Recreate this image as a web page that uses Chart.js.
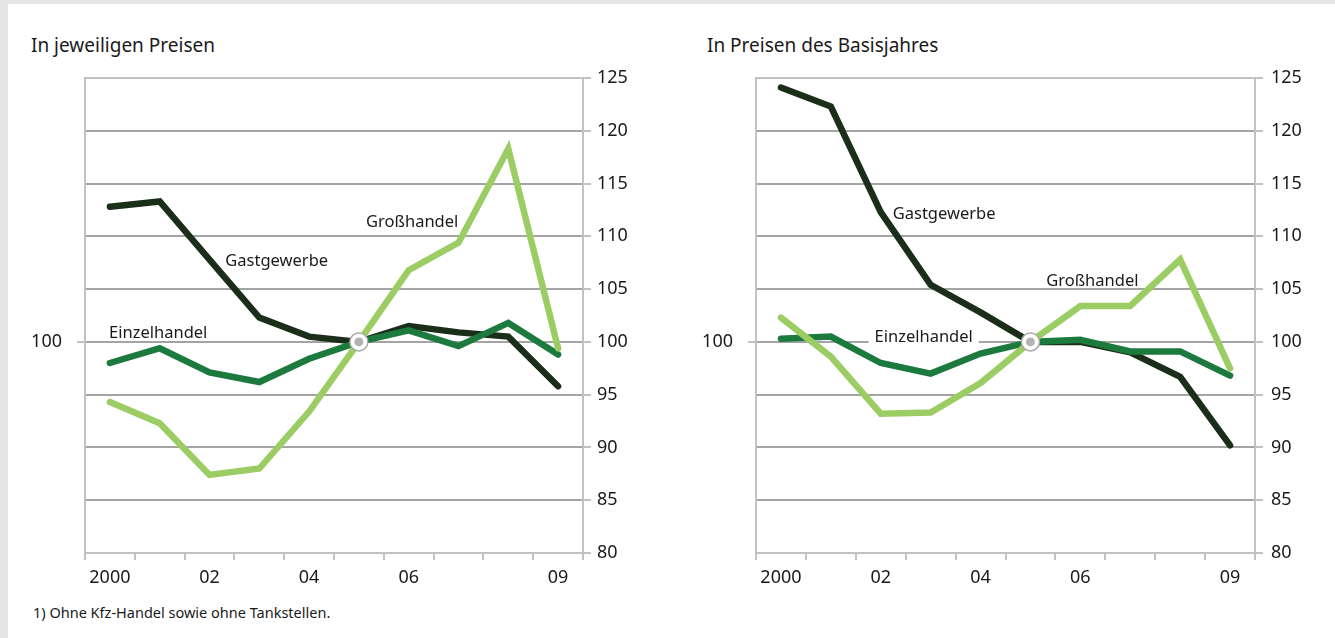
<!DOCTYPE html>
<html lang="de">
  <head>
    <meta charset="UTF-8" />
    <title>Umsatzentwicklung Handel und Gastgewerbe</title>
    <script src="https://cdn.jsdelivr.net/npm/chart.js"></script>
    <style>
      body {
        margin: 0;
        width: 1335px;
        height: 638px;
        background: #fff;
        position: relative;
        overflow: hidden;
        font-family: "Noto Sans", sans-serif;
        color: #1a1a1a;
      }
      .rand-links { position: absolute; left: 0; top: 0; width: 8px; height: 638px; background: #e5e5e5; }
      .rand-oben { position: absolute; left: 0; top: 0; width: 1335px; height: 4px; background: #e5e5e5; }
      .titel { position: absolute; top: 32px; font-size: 19px; white-space: nowrap; }
      .fussnote { position: absolute; left: 33px; top: 602px; font-size: 14.5px; }
      canvas { position: absolute; top: 0; }
    </style>
  </head>
  <body>
    <div class="rand-links"></div>
    <div class="rand-oben"></div>
    <div class="titel" style="left: 31px">In jeweiligen Preisen</div>
    <div class="titel" style="left: 707px">In Preisen des Basisjahres</div>
    <canvas id="chartLinks" width="665" height="600" style="left: 0"></canvas>
    <canvas id="chartRechts" width="665" height="600" style="left: 670px"></canvas>
    <div class="fussnote">1) Ohne Kfz-Handel sowie ohne Tankstellen.</div>

    <script>
      // Jahre und Achsenbeschriftung
      const jahre = ["2000", "2001", "2002", "2003", "2004", "2005", "2006", "2007", "2008", "2009"];
      const jahrLabels = ["2000", "", "02", "", "04", "", "06", "", "", "09"];
      const basisJahr = "2005";

      // In jeweiligen Preisen (2005 = 100)
      const gastLinks = [112.8, 113.3, 107.8, 102.3, 100.5, 100, 101.5, 100.9, 100.5, 95.8];
      const einzelLinks = [98.0, 99.4, 97.1, 96.2, 98.4, 100, 101.1, 99.6, 101.8, 98.8];
      const grossLinks = [94.3, 92.3, 87.4, 88.0, 93.4, 100, 106.8, 109.4, 118.3, 99.4];

      // In Preisen des Basisjahres (2005 = 100)
      const gastRechts = [124.1, 122.3, 112.3, 105.4, 102.8, 100, 100.0, 99.0, 96.7, 90.2];
      const einzelRechts = [100.3, 100.5, 98.0, 97.0, 98.9, 100, 100.2, 99.1, 99.1, 96.8];
      const grossRechts = [102.3, 98.6, 93.2, 93.3, 96.1, 100, 103.4, 103.4, 107.8, 97.5];

      const yMin = 80, yMax = 125, yStep = 5;

      const farbeGast = "#1a2e1a";
      const farbeEinzel = "#1c7a3e";
      const farbeGross = "#9ccd64";
      const gitter = "#a4a4a4";
      const rahmen = "#c2c2c2";
      const schrift = "#1a1a1a";

      const basisDaten = jahre.map((j) => (j === basisJahr ? 100 : null));

      // Beschriftungen direkt an den Linien
      const linienText = {
        id: "linienText",
        beforeDatasetsDraw(chart, args, opts) {
          const ctx = chart.ctx;
          const x = chart.scales.x, y = chart.scales.y;
          ctx.save();
          ctx.font = '16.5px "Noto Sans"';
          ctx.textAlign = "center";
          ctx.textBaseline = "middle";
          (opts.items || []).forEach((it) => {
            const px = x.getPixelForValue(it.i);
            const py = y.getPixelForValue(it.v);
            if (it.box) {
              const w = ctx.measureText(it.text).width + 12;
              ctx.fillStyle = "#fff";
              ctx.fillRect(px - w / 2, py - 8, w, 16);
            }
            ctx.fillStyle = schrift;
            ctx.fillText(it.text, px, py);
          });
          ctx.restore();
        },
      };

      function baueChart(id, gast, einzel, gross, breiteLinks, breiteRechts, pad, labels) {
        const linie = (label, data, farbe, order) => ({
          label, data, order,
          borderColor: farbe,
          borderWidth: 6.5,
          borderCapStyle: "round",
          borderJoinStyle: "miter",
          pointRadius: 0,
          tension: 0,
          yAxisID: "y",
        });
        const schriftArt = { family: "Noto Sans", size: 18 };
        return new Chart(document.getElementById(id), {
          type: "line",
          data: {
            labels: jahre,
            datasets: [
              {
                label: "Basis", data: basisDaten, order: 0, showLine: false, yAxisID: "y",
                pointRadius: 4.5, pointBackgroundColor: "#b3b3b3", pointBorderWidth: 0,
              },
              {
                label: "Basisring", data: basisDaten, order: 1, showLine: false, yAxisID: "y",
                pointRadius: 9, pointBackgroundColor: "#fff", pointBorderColor: "#a9a9a9", pointBorderWidth: 1.5,
              },
              linie("Großhandel", gross, farbeGross, 2),
              linie("Einzelhandel", einzel, farbeEinzel, 3),
              linie("Gastgewerbe", gast, farbeGast, 4),
            ],
          },
          options: {
            responsive: false,
            animation: false,
            layout: { padding: { top: 78, left: 0, right: 0, bottom: 0 } },
            plugins: {
              legend: { display: false },
              tooltip: { enabled: false },
              linienText: { items: labels },
            },
            scales: {
              x: {
                offset: true,
                afterFit: (s) => { s.height = 47; },
                grid: { drawOnChartArea: false, offset: true, tickLength: 7, color: rahmen, lineWidth: 2 },
                border: { display: true, color: rahmen, width: 2 },
                ticks: {
                  autoSkip: false, maxRotation: 0, padding: 7, color: schrift,
                  font: schriftArt,
                  callback: (v, i) => jahrLabels[i],
                },
              },
              yl: {
                position: "left", min: yMin, max: yMax,
                afterFit: (s) => { s.width = breiteLinks; },
                afterBuildTicks: (s) => { s.ticks = [{ value: 100 }]; },
                grid: { drawOnChartArea: false, tickLength: 8, color: rahmen, lineWidth: 2 },
                border: { display: true, color: rahmen, width: 2 },
                ticks: { padding: 15, color: schrift, font: schriftArt },
              },
              y: {
                position: "right", min: yMin, max: yMax,
                afterFit: (s) => { s.width = breiteRechts; },
                grid: {
                  tickLength: 8, lineWidth: 2,
                  color: (c) => (c.tick && (c.tick.value === yMin || c.tick.value === yMax) ? rahmen : gitter),
                  tickColor: rahmen,
                },
                border: { display: true, color: rahmen, width: 2 },
                ticks: { stepSize: yStep, padding: pad, color: schrift, font: schriftArt },
              },
            },
          },
          plugins: [linienText],
        });
      }

      baueChart("chartLinks", gastLinks, einzelLinks, grossLinks, 85, 82, 6, [
        { text: "Gastgewerbe", i: 3.35, v: 107.6 },
        { text: "Großhandel", i: 6.07, v: 111.3 },
        { text: "Einzelhandel", i: 0.97, v: 100.8 },
      ]);
      baueChart("chartRechts", gastRechts, einzelRechts, grossRechts, 86, 80, 8, [
        { text: "Gastgewerbe", i: 3.27, v: 112.1 },
        { text: "Großhandel", i: 6.24, v: 105.7 },
        { text: "Einzelhandel", i: 2.86, v: 100.4, box: true },
      ]);
    </script>
  </body>
</html>
